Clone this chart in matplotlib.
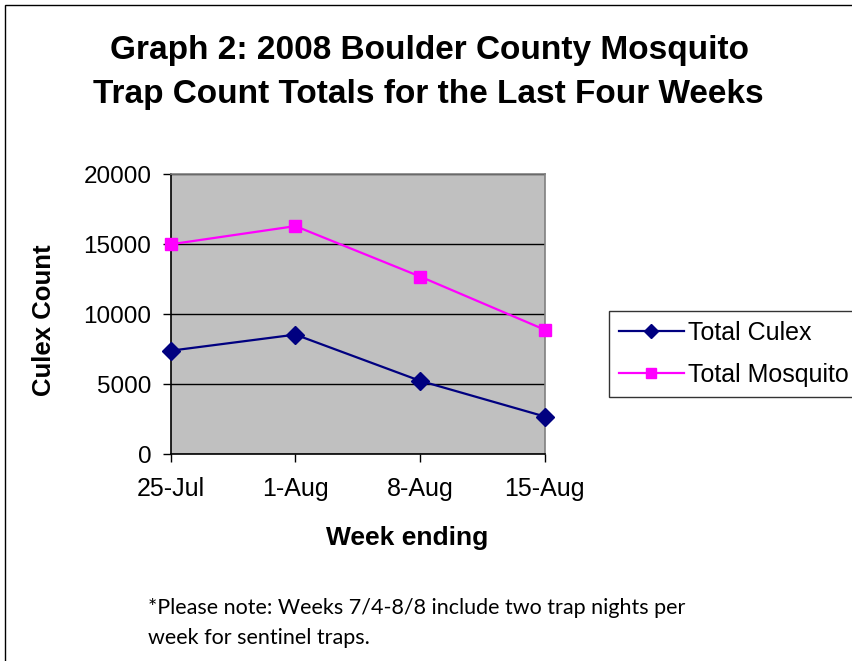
import matplotlib
matplotlib.use("Agg")
import matplotlib.pyplot as plt
from matplotlib.patches import Rectangle

weeks = ["25-Jul", "1-Aug", "8-Aug", "15-Aug"]
total_culex = [7400, 8550, 5250, 2700]
total_mosquito = [15000, 16300, 12700, 8900]
y_ticks = [0, 5000, 10000, 15000, 20000]

W, H = 853, 661
fig = plt.figure(figsize=(W / 100, H / 100), dpi=100)
fig.patch.set_facecolor("white")

# outer chart border (extends past right/bottom edges)
fig.add_artist(Rectangle((5 / W, -0.05), 1.05, 1 - 5 / H + 0.05,
                         transform=fig.transFigure, fill=False,
                         edgecolor="black", linewidth=1.0))

left, right, top, bottom = 170.7, 544.7, 174.3, 454.3
ax = fig.add_axes([left / W, 1 - bottom / H, (right - left) / W, (bottom - top) / H])
ax.set_facecolor("#C0C0C0")

x = list(range(len(weeks)))
ax.plot(x, total_culex, color="#000080", marker="D", markersize=9,
        linewidth=1.6, label="Total Culex", clip_on=False, zorder=5)
ax.plot(x, total_mosquito, color="#FF00FF", marker="s", markersize=9,
        linewidth=1.6, label="Total Mosquito", clip_on=False, zorder=5)

ax.set_xlim(0, len(weeks) - 1)
ax.set_ylim(0, 20000)
ax.set_yticks(y_ticks)
ax.set_yticklabels([str(v) for v in y_ticks])
ax.set_xticks(x)
ax.set_xticklabels(weeks)
ax.yaxis.grid(True, color="black", linewidth=1.0)
ax.set_axisbelow(True)

for s in ["top", "right"]:
    ax.spines[s].set_color("#808080")
    ax.spines[s].set_linewidth(1.2)
for s in ["left", "bottom"]:
    ax.spines[s].set_color("black")
    ax.spines[s].set_linewidth(1.2)

ax.tick_params(axis="both", direction="out", length=6, width=1.0,
               labelsize=17.5, colors="black")
ax.tick_params(axis="x", labelsize=18)
ax.tick_params(axis="y", pad=8)
ax.tick_params(axis="x", pad=10)
for lab in ax.get_xticklabels() + ax.get_yticklabels():
    lab.set_fontfamily("Liberation Sans")

fig.text(407 / W, 1 - 538 / H, "Week ending", ha="center", va="center",
         fontsize=19, fontweight="bold", family="Liberation Sans")
fig.text(44 / W, 1 - 320 / H, "Culex Count", ha="center", va="center",
         rotation=90, fontsize=18.5, fontweight="bold", family="Liberation Sans")

fig.text(430 / W, 1 - 50 / H, "Graph 2: 2008 Boulder County Mosquito",
         ha="center", va="center", fontsize=24, fontweight="bold",
         family="Liberation Sans")
fig.text(428 / W, 1 - 95 / H, "Trap Count Totals for the Last Four Weeks",
         ha="center", va="center", fontsize=24, fontweight="bold",
         family="Liberation Sans")

fig.text(148 / W, 1 - 608 / H,
         "*Please note: Weeks 7/4-8/8 include two trap nights per",
         ha="left", va="center", fontsize=15.5, family="Lato")
fig.text(148 / W, 1 - 638 / H, "week for sentinel traps.",
         ha="left", va="center", fontsize=15.5, family="Lato")

leg = ax.legend(loc="upper left", bbox_to_anchor=(609 / W, 1 - 311 / H, 260 / W, 0),
                bbox_transform=fig.transFigure, mode="expand",
                frameon=True, fancybox=False, borderaxespad=0,
                prop={"family": "Liberation Sans", "size": 18},
                handlelength=2.6, handletextpad=0.15, labelspacing=0.72,
                borderpad=0.4, markerscale=0.8)
leg.get_frame().set_edgecolor("black")
leg.get_frame().set_linewidth(1.0)
leg.get_frame().set_facecolor("white")

fig.savefig("out.png", dpi=100)
